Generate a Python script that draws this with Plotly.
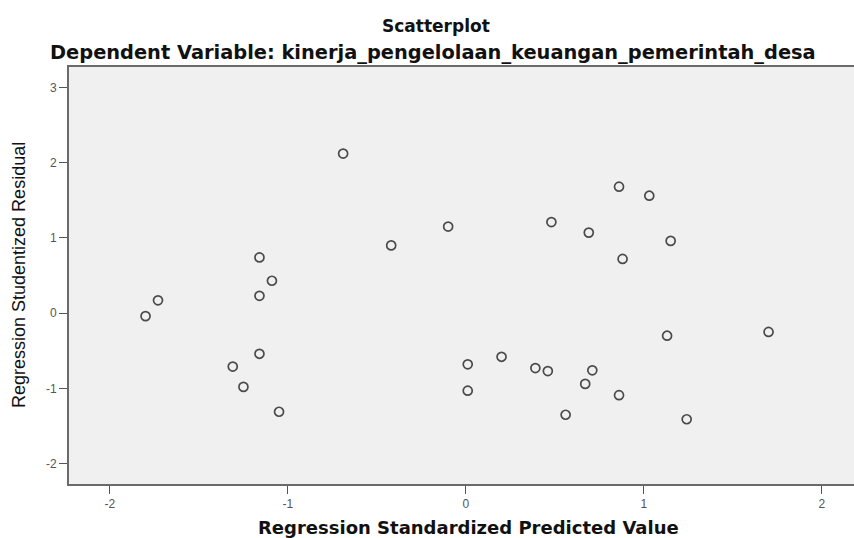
import plotly.graph_objects as go

# Regression Standardized Predicted Value (x) and Studentized Residual (y)
predicted = [-0.69, -0.10, -0.42, -1.16, -1.09, -1.16, -1.73, -1.80, -1.16, -1.31,
             -1.25, -1.05, 0.01, 0.01, 0.86, 1.03, 0.48, 0.69, 1.15, 0.88,
             1.13, 1.70, 0.20, 0.39, 0.46, 0.71, 0.67, 0.86, 0.56, 1.24]
residual = [2.12, 1.15, 0.90, 0.74, 0.43, 0.23, 0.17, -0.04, -0.54, -0.71,
            -0.98, -1.31, -0.68, -1.03, 1.68, 1.56, 1.21, 1.07, 0.96, 0.72,
            -0.30, -0.25, -0.58, -0.73, -0.77, -0.76, -0.94, -1.09, -1.35, -1.41]

x_ticks = [-2, -1, 0, 1, 2]
y_ticks = [-2, -1, 0, 1, 2, 3]

title_text = "Scatterplot"
subtitle_text = "Dependent Variable: kinerja_pengelolaan_keuangan_pemerintah_desa"
x_title = "Regression Standardized Predicted Value"
y_title = "Regression Studentized Residual"

W, H = 854, 538
L, R, T, B = 69, 0, 67, 54
PW, PH = W - L - R, H - T - B


def px(X):
    return (X - L) / PW


def py(Y):
    return (H - B - Y) / PH


BOLD = "DejaVu Sans, Liberation Sans, Arial, sans-serif"
REG = "Liberation Sans, Arial, sans-serif"

fig = go.Figure()
fig.add_trace(go.Scatter(
    x=predicted, y=residual, mode="markers",
    marker=dict(symbol="circle-open", size=9, color="#4a4a4a",
                line=dict(width=1.7, color="#4a4a4a")),
    showlegend=False, hoverinfo="x+y",
))

fig.update_layout(
    width=W, height=H,
    paper_bgcolor="white", plot_bgcolor="#f0f0f0",
    margin=dict(l=L, r=R, t=T, b=B),
    font=dict(family=REG, color="#222"),
    annotations=[
        dict(text="<b>" + title_text + "</b>", x=px(436), y=py(26), xref="paper", yref="paper",
             xanchor="center", yanchor="middle", showarrow=False,
             font=dict(size=17, color="#111", family=BOLD)),
        dict(text="<b>" + subtitle_text + "</b>", x=px(433), y=py(53), xref="paper", yref="paper",
             xanchor="center", yanchor="middle", showarrow=False,
             font=dict(size=19.4, color="#111", family=BOLD)),
        dict(text="<b>" + x_title + "</b>", x=px(468), y=py(527), xref="paper", yref="paper",
             xanchor="center", yanchor="middle", showarrow=False,
             font=dict(size=18, color="#111", family=BOLD)),
        dict(text=y_title, x=px(19), y=py(275), xref="paper", yref="paper",
             xanchor="center", yanchor="middle", showarrow=False, textangle=-90,
             font=dict(size=18, color="#111", family=REG)),
    ],
)

fig.update_xaxes(
    range=[-2.23, 2.18], tickvals=x_ticks, ticktext=[str(v) for v in x_ticks],
    showgrid=False, zeroline=False, showline=True, linecolor="#6a6a6a", linewidth=2, mirror=True,
    ticks="outside", ticklen=8, tickcolor="#555", tickwidth=1,
    tickfont=dict(size=12, color="#555", family=REG),
)
fig.update_yaxes(
    range=[-2.27, 3.27], tickvals=y_ticks, ticktext=[str(v) for v in y_ticks],
    showgrid=False, zeroline=False, showline=True, linecolor="#6a6a6a", linewidth=2,
    ticks="outside", ticklen=8, tickcolor="#555", tickwidth=1,
    tickfont=dict(size=12, color="#555", family=REG),
)

fig.write_html("out.html", config={"displayModeBar": False},
               post_script="document.body.style.margin='0';")
